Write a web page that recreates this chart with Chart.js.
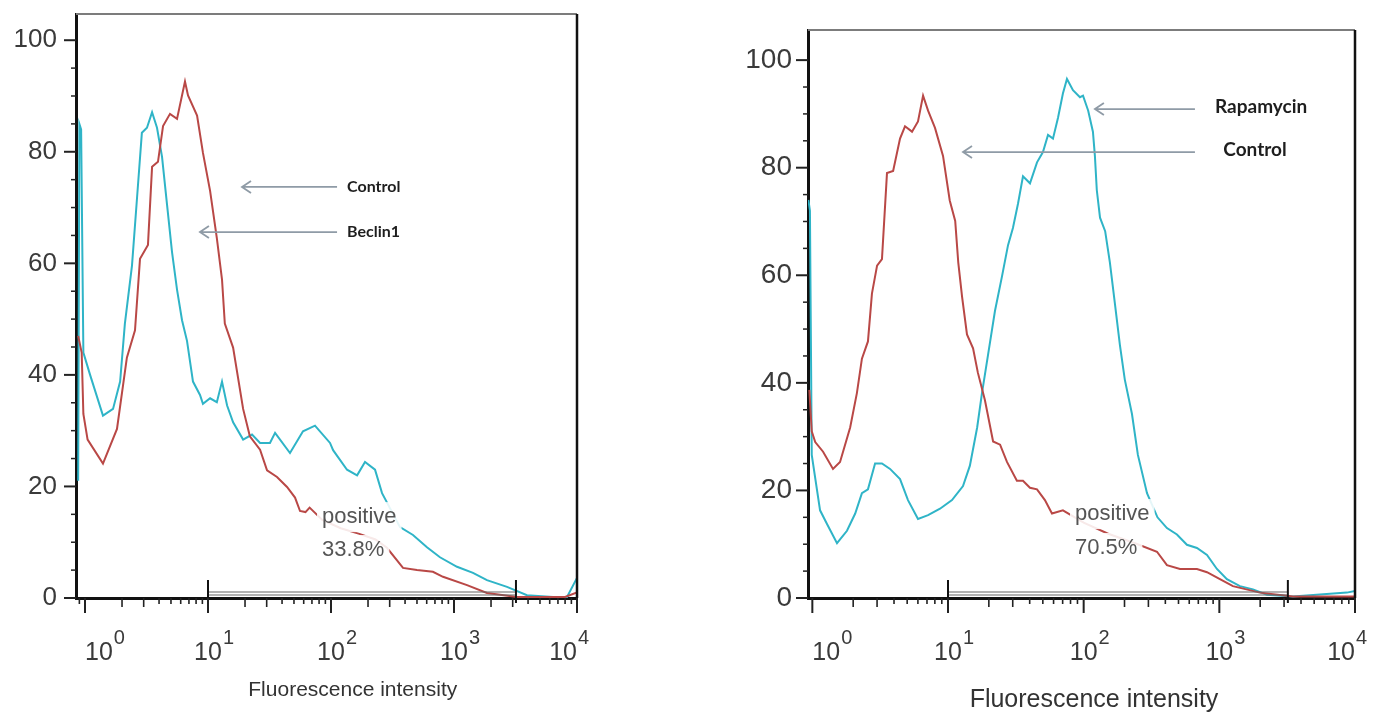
<!DOCTYPE html>
<html>
<head>
<meta charset="utf-8">
<script src="https://cdn.jsdelivr.net/npm/chart.js@4.4.1/dist/chart.umd.min.js"></script>
<style>
  html, body { margin: 0; padding: 0; background: #fff; }
  body { width: 1375px; height: 716px; position: relative; overflow: hidden; }
  .panel { position: absolute; top: 0; height: 716px; }
</style>
</head>
<body>
<div class="panel" style="left:0;width:600px"><canvas id="leftChart" width="600" height="716"></canvas></div>
<div class="panel" style="left:700px;width:675px"><canvas id="rightChart" width="675" height="716"></canvas></div>
<script>
// x tick labels (log decades): base "10" plus a raised exponent
const decadeValues = [1, 10, 100, 1000, 10000];
const decadeBase = '10';
const decadeExponents = ['0', '1', '2', '3', '4'];
const countTicks = [0, 20, 40, 60, 80, 100];

// left panel: Control (red) vs Beclin1 (cyan)
const leftControlX = [0.88, 0.94, 0.97, 1.05, 1.4, 1.82, 2.19, 2.55, 2.8, 3.25, 3.51, 3.92, 4.31, 4.91, 5.6, 6.5, 6.88, 8.15, 9.1, 10.4, 11.8, 13.0, 13.7, 16.0, 19.3, 21.9, 26.5, 30.2, 36.4, 43.9, 51, 56, 62, 67, 85, 120, 170, 230, 285, 385, 500, 674, 814, 1276, 1853, 3250, 8000, 10000];
const leftControlY = [47, 44, 33, 28.4, 24.1, 30.3, 43.1, 48, 60.8, 63.3, 77.3, 78.2, 84.6, 86.8, 85.9, 92.6, 90.1, 86.5, 79.8, 73, 64.5, 57.1, 49.2, 44.9, 33.9, 29, 26.6, 22.9, 21.7, 19.9, 18, 15.6, 15.4, 16.2, 14, 12.5, 11.5, 10.5, 9, 5.4, 5.0, 4.7, 3.8, 2.3, 0.9, 0.2, 0.2, 1];
const leftBeclinX = [0.88, 0.9, 0.93, 0.97, 1.1, 1.4, 1.69, 1.93, 2.11, 2.41, 2.65, 2.9, 3.19, 3.51, 3.85, 4.23, 4.64, 5.1, 5.6, 6.15, 6.75, 7.55, 8.61, 9.1, 10.4, 11.8, 13.0, 14.3, 16.0, 19.3, 22.8, 26.5, 31.9, 35.1, 46.4, 59.2, 74.1, 98.2, 104, 135, 163, 189, 228, 260, 364, 464, 603, 769, 1058, 1427, 1853, 2697, 3921, 6383, 8299, 10000];
const leftBeclinY = [21, 85, 84, 44, 40, 32.7, 33.9, 38.8, 49.2, 59.6, 71.8, 83.4, 84.3, 87.1, 84.3, 79.1, 70.6, 62, 55.3, 49.8, 46.1, 38.8, 36.4, 34.8, 35.8, 35.1, 38.8, 34.5, 31.5, 28.4, 29.3, 27.8, 27.8, 29.6, 26, 29.9, 30.9, 27.8, 26.5, 23, 22, 24.4, 23, 18.8, 12.7, 11.3, 9.1, 7.3, 5.6, 4.5, 3.2, 2, 0.5, 0.2, 0.2, 3.6];

// right panel: Control (red) vs Rapamycin (cyan)
const rightControlX = [0.95, 0.99, 1.05, 1.2, 1.42, 1.6, 1.9, 2.13, 2.32, 2.57, 2.75, 3.0, 3.26, 3.55, 3.94, 4.43, 4.82, 5.43, 6.01, 6.55, 7.13, 8.02, 9.19, 10.3, 11.3, 11.9, 12.7, 13.8, 15.3, 16.6, 18.7, 21.5, 24.2, 27.2, 32.2, 35.7, 40.2, 45.3, 51.8, 58.4, 70.3, 100, 150, 250, 347, 411, 513, 684, 811, 1010, 1259, 1992, 3491, 10000];
const rightControlY = [38.7, 31, 29, 27.2, 24, 25.3, 31.7, 38.1, 44.5, 47.7, 56.6, 61.8, 63, 79, 79.4, 85.4, 87.7, 86.7, 88.6, 93.4, 90.6, 87.4, 82.2, 73.9, 70.1, 62.4, 56, 49, 46.4, 41.9, 36.8, 29.1, 28.5, 25.3, 21.8, 21.8, 20.5, 20.2, 18.2, 15.7, 16.3, 14, 12, 10, 8.6, 6.1, 5.4, 5.4, 4.8, 3.5, 2.2, 1, 0.3, 0.3];
const rapaX = [0.935, 0.96, 0.99, 1.14, 1.28, 1.52, 1.8, 2.07, 2.32, 2.57, 2.9, 3.26, 3.74, 4.43, 5.07, 6.01, 7.13, 8.73, 10.7, 12.9, 14.5, 16.4, 17.8, 19.7, 22.2, 25.0, 27.7, 30.1, 32.8, 35.7, 40.2, 45.3, 50.1, 54.6, 59.4, 64.7, 70.3, 75.3, 83.4, 93.9, 98.9, 108, 117, 121, 125, 132, 144, 156, 170, 185, 201, 227, 251, 293, 350, 411, 487, 577, 684, 811, 960, 1137, 1418, 1770, 2244, 3491, 8710, 10000];
const rapaY = [74, 72, 26.6, 16.3, 13.8, 10.2, 12.5, 15.7, 19.5, 20.2, 25, 25, 24, 22.1, 18.2, 14.7, 15.4, 16.6, 18.2, 20.8, 24.6, 31.7, 38.1, 45.1, 53.4, 59.8, 65.6, 68.8, 73.3, 78.4, 77.1, 81, 82.9, 86.1, 85.4, 89.3, 93.8, 96.5, 94.4, 93.1, 93.4, 90.6, 86.7, 82.2, 75.8, 70.7, 68.2, 62.4, 54.7, 47, 40.6, 34.2, 26.6, 19.5, 15, 13, 11.8, 9.9, 9.3, 8, 5.4, 3.5, 2.2, 1.6, 0.6, 0.3, 1, 1.3];

const RED = '#b94846';
const CYAN = '#2fb4c7';
const TICK_FONT = "'Liberation Sans', Arial, sans-serif";
const X_LABEL_SIZE = 25;
const X_LABEL_PAD = 40;

function pts(xs, ys) {
  return xs.map((x, i) => ({ x: x, y: ys[i] }));
}

function histo(label, xs, ys, color) {
  return {
    label: label,
    data: pts(xs, ys),
    borderColor: color,
    borderWidth: 2,
    pointRadius: 0,
    tension: 0,
    fill: false
  };
}

// frame, ticks, gate, arrows and texts
const decor = {
  id: 'decor',
  afterDatasetsDraw(chart, args, opts) {
    const { ctx, scales: { x, y } } = chart;
    ctx.save();
    ctx.textBaseline = 'middle';
    ctx.textAlign = 'left';

    // "positive" labels sit on a pale backing that hides the curves
    ctx.font = opts.gateFont;
    opts.gateText.forEach(t => {
      const px = x.getPixelForValue(t.x), py = y.getPixelForValue(t.y);
      const w = ctx.measureText(t.text).width;
      ctx.fillStyle = 'rgba(255,255,255,0.88)';
      ctx.fillRect(px - 5, py - 15, w + 10, 30);
    });
    opts.gateText.forEach(t => {
      ctx.fillStyle = '#555';
      ctx.fillText(t.text, x.getPixelForValue(t.x), y.getPixelForValue(t.y));
    });

    // gate bar
    const g0 = x.getPixelForValue(opts.gate[0]);
    const g1 = x.getPixelForValue(opts.gate[1]);
    const base = y.getPixelForValue(0);
    ctx.strokeStyle = '#666';
    ctx.lineWidth = 1.2;
    [6, 3].forEach(d => {
      ctx.beginPath(); ctx.moveTo(g0, base - d); ctx.lineTo(g1, base - d); ctx.stroke();
    });
    ctx.strokeStyle = '#111';
    ctx.lineWidth = 2;
    [g0, g1].forEach(gx => {
      ctx.beginPath(); ctx.moveTo(gx, base - 18); ctx.lineTo(gx, base + 5); ctx.stroke();
    });

    // arrows
    ctx.strokeStyle = '#8f9ba6';
    ctx.lineWidth = 1.8;
    opts.arrows.forEach(a => {
      const x0 = x.getPixelForValue(a.from), x1 = x.getPixelForValue(a.to), py = y.getPixelForValue(a.y);
      ctx.beginPath();
      ctx.moveTo(x0, py); ctx.lineTo(x1, py);
      ctx.moveTo(x1 + 9, py - 6); ctx.lineTo(x1, py); ctx.lineTo(x1 + 9, py + 6);
      ctx.stroke();
    });

    // legend-like names
    ctx.font = opts.nameFont;
    ctx.fillStyle = '#1e1e1e';
    opts.names.forEach(n => {
      ctx.fillText(n.text, x.getPixelForValue(n.x), y.getPixelForValue(n.y));
    });
    ctx.restore();
  },
  afterDraw(chart) {
    const { ctx, chartArea: a, scales: { x, y } } = chart;
    ctx.save();
    // top and right frame
    ctx.strokeStyle = '#7c7c7c';
    ctx.lineWidth = 2;
    ctx.beginPath(); ctx.moveTo(a.left, a.top); ctx.lineTo(a.right, a.top); ctx.stroke();
    ctx.strokeStyle = '#111';
    ctx.lineWidth = 2.5;
    ctx.beginPath(); ctx.moveTo(a.right, a.top); ctx.lineTo(a.right, a.bottom); ctx.stroke();

    // y ticks: majors every 20, minors every 5
    ctx.strokeStyle = '#222';
    for (let v = 0; v <= 100; v += 5) {
      const py = y.getPixelForValue(v);
      const major = v % 20 === 0;
      ctx.lineWidth = major ? 2 : 1.5;
      ctx.beginPath(); ctx.moveTo(a.left, py); ctx.lineTo(a.left - (major ? 12 : 5), py); ctx.stroke();
    }
    // x ticks: decades and 2..9 minors
    for (let d = -1; d <= 4; d++) {
      for (let m = 1; m <= 9; m++) {
        const v = m * Math.pow(10, d);
        if (v < x.min || v > x.max) continue;
        const px = x.getPixelForValue(v);
        const len = m === 1 ? 15 : (m <= 3 ? 9 : 6);
        ctx.lineWidth = m === 1 ? 2 : 1.6;
        ctx.beginPath(); ctx.moveTo(px, a.bottom); ctx.lineTo(px, a.bottom + len); ctx.stroke();
      }
    }

    // decade exponents, raised beside each "10" (labels use inner alignment)
    ctx.font = X_LABEL_SIZE + 'px ' + TICK_FONT;
    const baseW = ctx.measureText(decadeBase).width;
    ctx.font = Math.round(X_LABEL_SIZE * 0.8) + 'px ' + TICK_FONT;
    ctx.fillStyle = '#3a3a3a';
    ctx.textAlign = 'left';
    ctx.textBaseline = 'alphabetic';
    const expBase = a.bottom + X_LABEL_PAD + X_LABEL_SIZE * 0.22;
    const last = decadeValues.length - 1;
    decadeValues.forEach((v, i) => {
      const px = x.getPixelForValue(v);
      const shift = i === 0 ? baseW : (i === last ? 0 : baseW / 2);
      ctx.fillText(decadeExponents[i], px + shift + 1, expBase);
    });
    ctx.restore();
  }
};

function panelOptions(p) {
  return {
    responsive: false,
    animation: false,
    layout: { padding: { top: p.top, right: p.right, left: 0, bottom: 0 } },
    plugins: {
      legend: { display: false },
      tooltip: { enabled: false },
      decor: p.decor
    },
    scales: {
      x: {
        type: 'logarithmic',
        min: p.xMin,
        max: 10000,
        afterBuildTicks: s => { s.ticks = decadeValues.map(v => ({ value: v })); },
        afterFit: s => { s.height = 118; s.paddingLeft = 0; s.paddingRight = 0; },
        grid: { display: false, drawTicks: false },
        border: { display: true, color: '#111', width: 3 },
        ticks: {
          autoSkip: false,
          maxRotation: 0,
          align: 'inner',
          padding: X_LABEL_PAD,
          color: '#3a3a3a',
          font: { family: TICK_FONT, size: X_LABEL_SIZE },
          callback: v => (decadeValues.indexOf(v) < 0 ? '' : decadeBase)
        },
        title: {
          display: true,
          text: p.title,
          color: '#333',
          font: { family: TICK_FONT, size: p.titleSize },
          padding: { top: 0, bottom: p.titlePad }
        }
      },
      y: {
        min: 0,
        max: p.yMax,
        afterBuildTicks: s => { s.ticks = countTicks.map(v => ({ value: v })); },
        afterFit: s => { s.width = p.yWidth; s.paddingTop = 0; s.paddingBottom = 0; },
        grid: { display: false, drawTicks: false },
        border: { display: true, color: '#111', width: 3 },
        ticks: {
          padding: p.yPad,
          color: '#3a3a3a',
          font: { family: TICK_FONT, size: p.ySize },
          callback: v => String(v)
        }
      }
    }
  };
}

new Chart(document.getElementById('leftChart'), {
  type: 'line',
  data: {
    datasets: [
      histo('Control', leftControlX, leftControlY, RED),
      histo('Beclin1', leftBeclinX, leftBeclinY, CYAN)
    ]
  },
  options: panelOptions({
    top: 14, right: 23, xMin: 0.845, yMax: 104.7, yWidth: 76, yPad: 19, ySize: 26,
    title: '\u2003\u2003\u2002Fluorescence intensity', titleSize: 21, titlePad: 13,
    decor: {
      gate: [10, 3190],
      gateFont: "22px 'Liberation Sans', Arial, sans-serif",
      gateText: [{ text: 'positive', x: 84.5, y: 14.5 }, { text: '33.8%', x: 84.5, y: 8.6 }],
      nameFont: "bold 16px Lato, 'Open Sans', sans-serif",
      names: [{ text: 'Control', x: 135, y: 73.7 }, { text: 'Beclin1', x: 135, y: 65.6 }],
      arrows: [{ from: 112, to: 18.9, y: 73.7 }, { from: 112, to: 8.6, y: 65.6 }]
    }
  }),
  plugins: [decor]
});

new Chart(document.getElementById('rightChart'), {
  type: 'line',
  data: {
    datasets: [
      histo('Control', rightControlX, rightControlY, RED),
      histo('Rapamycin', rapaX, rapaY, CYAN)
    ]
  },
  options: panelOptions({
    top: 30, right: 20, xMin: 0.929, yMax: 105.6, yWidth: 108, yPad: 16, ySize: 28,
    title: '\u2003Fluorescence intensity', titleSize: 25, titlePad: 1,
    decor: {
      gate: [10, 3200],
      gateFont: "22px 'Liberation Sans', Arial, sans-serif",
      gateText: [{ text: 'positive', x: 86.3, y: 15.6 }, { text: '70.5%', x: 86.3, y: 9.3 }],
      nameFont: "bold 19px Lato, 'Open Sans', sans-serif",
      names: [{ text: 'Rapamycin', x: 930, y: 91.3 }, { text: 'Control', x: 1070, y: 83.3 }],
      arrows: [{ from: 661, to: 121, y: 90.9 }, { from: 661, to: 12.9, y: 82.9 }]
    }
  }),
  plugins: [decor]
});
</script>
</body>
</html>
